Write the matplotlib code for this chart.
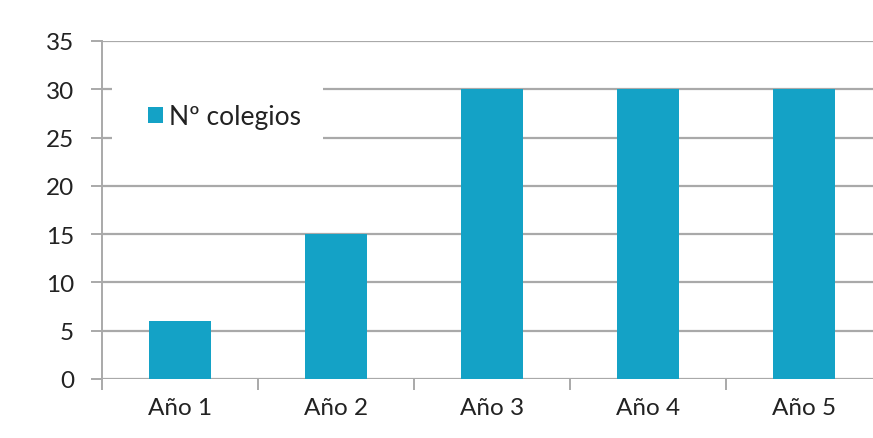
import matplotlib
matplotlib.use("Agg")
import matplotlib.pyplot as plt
from matplotlib.patches import Rectangle
import numpy as np

categories = ["Año 1", "Año 2", "Año 3", "Año 4", "Año 5"]
colegios = [6, 15, 30, 30, 30]
y_ticks = [0, 5, 10, 15, 20, 25, 30, 35]
series_label = "Nº colegios"

bar_color = "#14a2c6"
grid_color = "#a9a9a9"
text_color = "#222222"

plt.rcParams["font.family"] = ["Lato", "DejaVu Sans"]

W, H = 873, 439
fig = plt.figure(figsize=(W / 100, H / 100), dpi=100)
left, right, top, bottom = 102, 873, 42, 380
ax = fig.add_axes([left / W, 1 - bottom / H, (right - left) / W, (bottom - top) / H])

x = np.arange(len(categories))
ax.bar(x, colegios, width=0.4, color=bar_color, zorder=3, label=series_label)

ax.set_ylim(0, 35)
ax.set_xlim(-0.5, -0.5 + (right - left) / 156)
ax.set_yticks(y_ticks)
ax.set_yticklabels([str(v) for v in y_ticks])
ax.yaxis.grid(True, color=grid_color, linewidth=1.6, zorder=0)
ax.set_axisbelow(True)

# category labels centred under bars, tick marks at category boundaries
ax.set_xticks(x)
ax.set_xticklabels(categories)
ax.tick_params(axis="x", which="major", length=0, pad=13, labelsize=17.5, colors=text_color)
ax.set_xticks(np.arange(len(categories)) - 0.5, minor=True)
ax.tick_params(axis="x", which="minor", length=8, width=1.4, color=grid_color, direction="out")
ax.tick_params(axis="y", length=8, width=1.4, color=grid_color, pad=12, labelsize=17.5,
               labelcolor=text_color)

for s in ["top", "right", "bottom"]:
    ax.spines[s].set_visible(False)
ax.spines["left"].set_color(grid_color)
ax.spines["left"].set_linewidth(1.4)

# white backing panel behind the legend, over the gridlines
px = lambda v: (v - left) / (right - left)
py = lambda v: (bottom - v) / (bottom - top)
ax.add_patch(Rectangle((px(112), py(160)), px(323) - px(112), py(70) - py(160),
                       transform=ax.transAxes, facecolor="white", edgecolor="none", zorder=2))

leg = ax.legend(loc="upper left", bbox_to_anchor=(px(135), py(92)), frameon=False,
                fontsize=19, handlelength=0.55, handleheight=0.55, handletextpad=0.25,
                borderpad=0, labelcolor=text_color)
leg.set_zorder(4)

fig.savefig("out.png", dpi=100, facecolor="white")
